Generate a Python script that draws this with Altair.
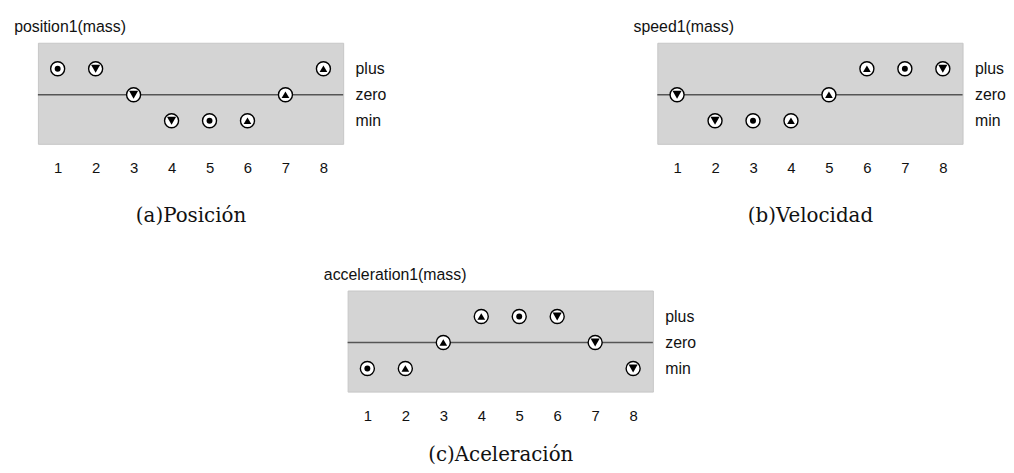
import altair as alt
import pandas as pd

steps = [1, 2, 3, 4, 5, 6, 7, 8]
level_names = ["min", "zero", "plus"]
level_values = [-1, 0, 1]

pos_level = ["plus", "plus", "zero", "min", "min", "min", "zero", "plus"]
pos_glyph = ["dot", "down", "down", "down", "dot", "up", "up", "up"]
spd_level = ["zero", "min", "min", "min", "zero", "plus", "plus", "plus"]
spd_glyph = ["down", "down", "dot", "up", "up", "up", "dot", "down"]
acc_level = ["min", "min", "zero", "plus", "plus", "plus", "zero", "min"]
acc_glyph = ["dot", "up", "up", "up", "dot", "down", "down", "down"]

glyph_names = ["dot", "up", "down"]
glyph_shapes = ["circle", "triangle-up", "triangle-down"]
glyph_sizes = [36, 85, 85]

level_map = dict(zip(level_names, level_values))
SANS = "Liberation Sans"
SERIF = "DejaVu Serif"


def panel(title, caption, levels, glyphs, cap_pad):
    df = pd.DataFrame({
        "step": steps,
        "level": [level_map[l] for l in levels],
        "glyph": glyphs,
    })
    x = alt.X("step:Q",
              scale=alt.Scale(domain=[0.48, 8.52], nice=False, zero=False),
              axis=alt.Axis(values=steps, ticks=False, domain=False, grid=False,
                            labelPadding=17, labelFont=SANS, labelFontSize=15,
                            labelColor="#111", title=caption, titleFont=SERIF,
                            titleFontSize=20, titleFontWeight="normal",
                            titleColor="#111", titlePadding=cap_pad))
    y = alt.Y("level:Q",
              scale=alt.Scale(domain=[-1.89, 2.0], nice=False, zero=False),
              axis=alt.Axis(orient="right", values=level_values,
                            labelExpr="datum.value == 1 ? 'plus' : (datum.value == 0 ? 'zero' : 'min')",
                            ticks=False, domain=False, grid=False, title=None,
                            labelPadding=12, labelFont=SANS, labelFontSize=16,
                            labelColor="#111", labelAlign="left",
                            labelBaseline="middle"))
    rule = alt.Chart(pd.DataFrame({"level": [0]})).mark_rule(
        color="#555555", strokeWidth=1.5).encode(y=alt.Y("level:Q"))
    base = alt.Chart(df)
    rings = base.mark_point(shape="circle", filled=True, fill="white",
                            stroke="black", strokeWidth=1.4, size=200,
                            opacity=1).encode(x=x, y=y)
    inner = base.mark_point(filled=True, color="black", opacity=1).encode(
        x=alt.X("step:Q"), y=alt.Y("level:Q"),
        shape=alt.Shape("glyph:N", scale=alt.Scale(domain=glyph_names, range=glyph_shapes), legend=None),
        size=alt.Size("glyph:O", scale=alt.Scale(domain=glyph_names, range=glyph_sizes), legend=None),
    )
    return alt.layer(rule, rings, inner).properties(
        width=308, height=102,
        title=alt.TitleParams(title, anchor="start", frame="group", dx=-24,
                              font=SANS, fontSize=16, fontWeight="normal",
                              color="#111", offset=8),
    )


a = panel("position1(mass)", "(a)Posición", pos_level, pos_glyph, 30)
b = panel("speed1(mass)", "(b)Velocidad", spd_level, spd_glyph, 30)
c = panel("acceleration1(mass)", "(c)Aceleración", acc_level, acc_glyph, 22)

top = alt.hconcat(a, b, spacing=248)
chart = alt.vconcat(top, c, spacing=40, center=True).properties(
    padding={"left": 5, "top": 8, "right": 0, "bottom": 0}
).configure_view(
    fill="#d4d4d4", stroke="#c6c6c6", strokeWidth=1
)

chart.save("out.html", embed_options={"renderer": "svg", "actions": False})
